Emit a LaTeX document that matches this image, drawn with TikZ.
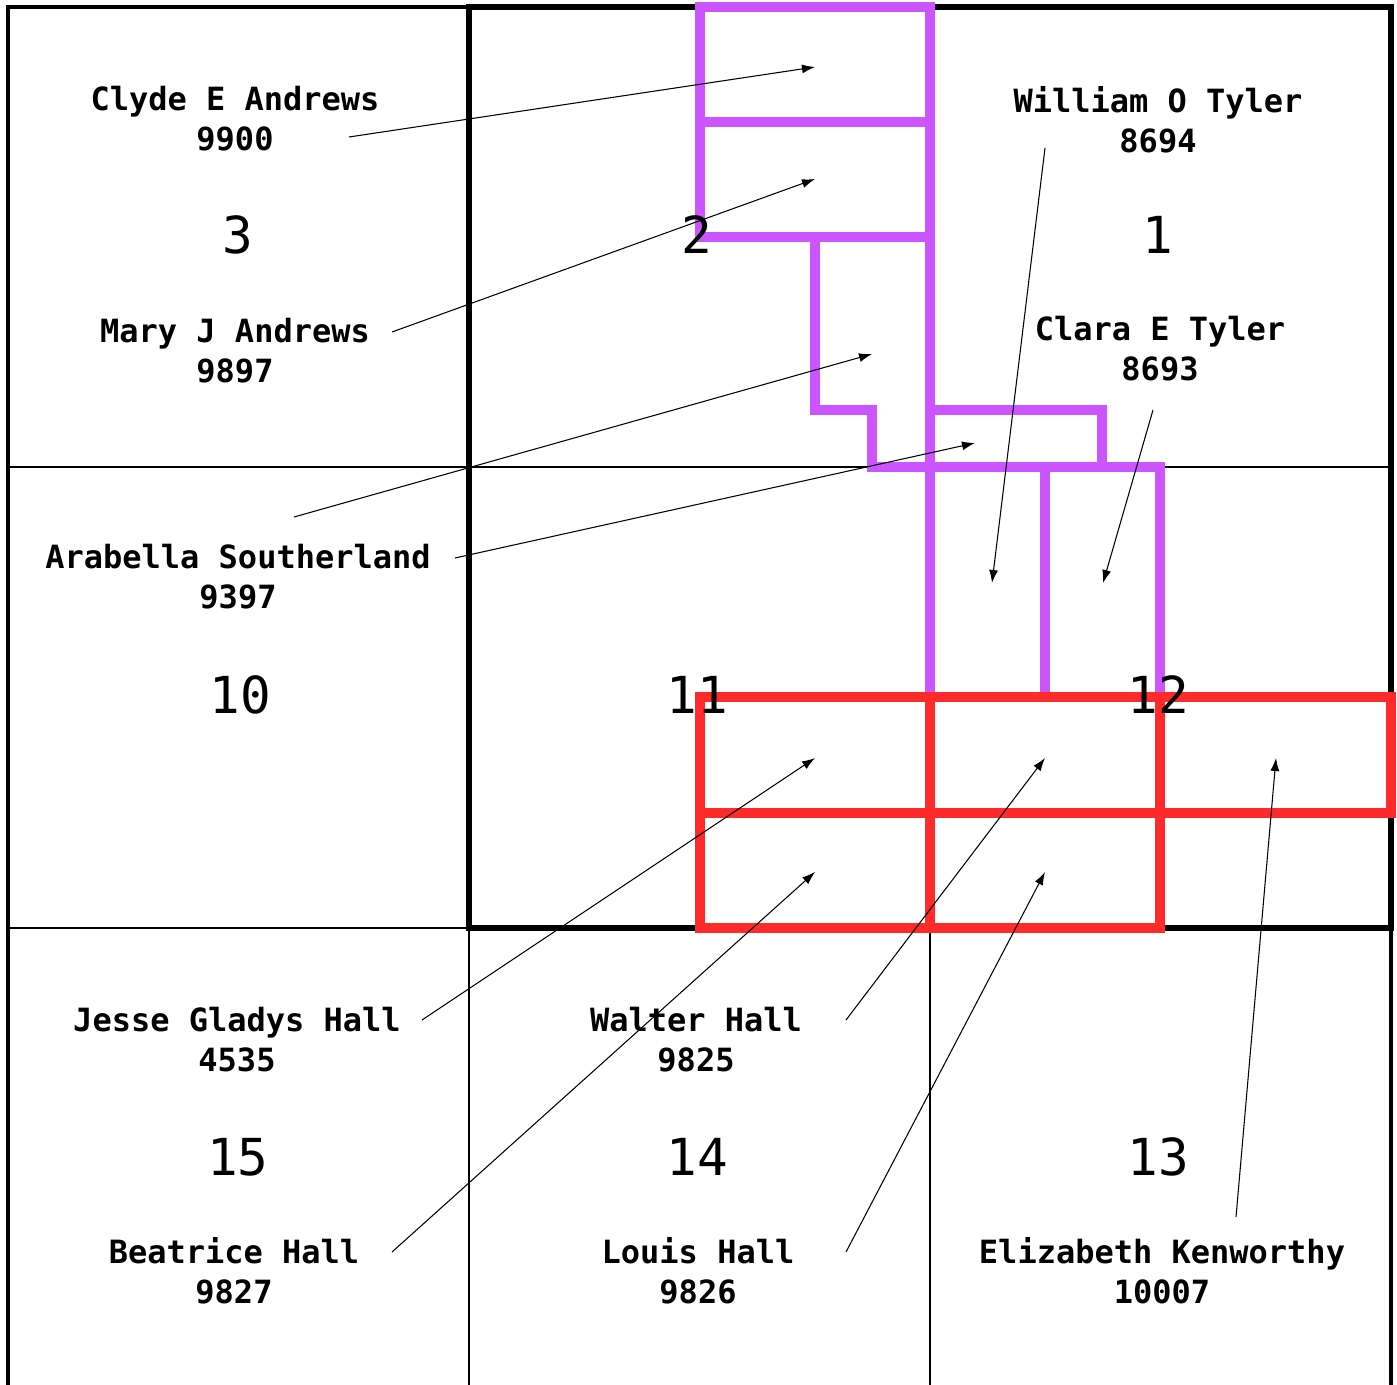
\documentclass[tikz,border=0pt]{standalone}
\usepackage{fontspec}
\setmonofont{DejaVu Sans Mono}
\usepackage{xcolor}
\usetikzlibrary{arrows.meta}
\definecolor{plotpurple}{RGB}{204,85,255}
\definecolor{plotred}{RGB}{255,43,43}

\begin{document}
\begin{tikzpicture}[
    x=0.01cm, y=-0.01cm,
    person/.style={font=\ttfamily\bfseries\fontsize{9.1}{11.4}\selectfont, align=center, inner sep=0pt},
    sect/.style={font=\ttfamily\fontsize{14.5}{17}\selectfont, inner sep=0pt},
    gridline/.style={line width=0.6pt},
    border/.style={line width=1.1pt},
    heavy/.style={line width=1.8pt},
    purplegrave/.style={draw=plotpurple, line width=2.85pt},
    redgrave/.style={draw=plotred, line width=2.85pt},
    arrow/.style={-{Latex[length=1.3mm, width=0.9mm]}, line width=0.3pt}
]
\useasboundingbox (0,0) rectangle (1397,1385);

% section grid
\draw[gridline] (8,467) -- (1391,467);
\draw[gridline] (8,928) -- (1391,928);
\draw[gridline] (469,7) -- (469,1385);
\draw[gridline] (930,7) -- (930,1385);
\draw[border] (8,1385) -- (8,7) -- (1391,7) -- (1391,1385);
\draw[heavy] (469,7) rectangle (1391,928);

% graves
\draw[purplegrave] (700,7) rectangle (930,122);
\draw[purplegrave] (700,122) rectangle (930,237);
\draw[purplegrave] (815,237) -- (815,410) -- (872,410) -- (872,467) -- (930,467) -- (930,237) -- cycle;
\draw[purplegrave] (930,410) rectangle (1102,467);
\draw[purplegrave] (930,467) rectangle (1045,697);
\draw[purplegrave] (1045,467) rectangle (1160,697);

\draw[redgrave] (700,697) rectangle (930,813);
\draw[redgrave] (930,697) rectangle (1160,813);
\draw[redgrave] (1160,697) rectangle (1391,813);
\draw[redgrave] (700,813) rectangle (930,928);
\draw[redgrave] (930,813) rectangle (1160,928);

% section numbers
\node[sect] (s3) at (238,235) {3};
\node[sect] (s2) at (697,235) {2};
\node[sect] (s1) at (1158,235) {1};
\node[sect] (s10) at (240,695) {10};
\node[sect] (s11) at (697,695) {11};
\node[sect] (s12) at (1158,695) {12};
\node[sect] (s15) at (238,1157) {15};
\node[sect] (s14) at (697,1157) {14};
\node[sect] (s13) at (1158,1157) {13};

% names
\node[person] (clyde) at (235,119) {Clyde E Andrews\\9900};
\node[person] (mary) at (235,351) {Mary J Andrews\\9897};
\node[person] (william) at (1158,120) {William O Tyler\\8694};
\node[person] (clara) at (1160,349) {Clara E Tyler\\8693};
\node[person] (arabella) at (238,577) {Arabella Southerland\\9397};
\node[person] (jesse) at (237,1040) {Jesse Gladys Hall\\4535};
\node[person] (beatrice) at (234,1271) {Beatrice Hall\\9827};
\node[person] (walter) at (696,1040) {Walter Hall\\9825};
\node[person] (louis) at (698,1271) {Louis Hall\\9826};
\node[person] (elizabeth) at (1162,1271) {Elizabeth Kenworthy\\10007};

% pointer ends
\coordinate (clydeA) at (349,137);   \coordinate (graveA) at (815,67);
\coordinate (maryA) at (392,332);    \coordinate (graveB) at (815,179);
\coordinate (arabA) at (294,517);    \coordinate (graveC) at (872,354);
\coordinate (arabB) at (455,558);    \coordinate (graveD) at (975,443);
\coordinate (williamA) at (1045,148); \coordinate (graveE) at (992,583);
\coordinate (claraA) at (1153,410);  \coordinate (graveF) at (1103,583);
\coordinate (jesseA) at (422,1020);  \coordinate (graveG) at (815,758);
\coordinate (beatriceA) at (392,1252); \coordinate (graveH) at (815,872);
\coordinate (walterA) at (846,1020); \coordinate (graveI) at (1045,758);
\coordinate (louisA) at (846,1252);  \coordinate (graveJ) at (1045,872);
\coordinate (elizabethA) at (1236,1217); \coordinate (graveK) at (1276,758);

\draw[arrow] (clydeA) -- (graveA);
\draw[arrow] (maryA) -- (graveB);
\draw[arrow] (arabA) -- (graveC);
\draw[arrow] (arabB) -- (graveD);
\draw[arrow] (williamA) -- (graveE);
\draw[arrow] (claraA) -- (graveF);
\draw[arrow] (jesseA) -- (graveG);
\draw[arrow] (beatriceA) -- (graveH);
\draw[arrow] (walterA) -- (graveI);
\draw[arrow] (louisA) -- (graveJ);
\draw[arrow] (elizabethA) -- (graveK);

\end{tikzpicture}
\end{document}
